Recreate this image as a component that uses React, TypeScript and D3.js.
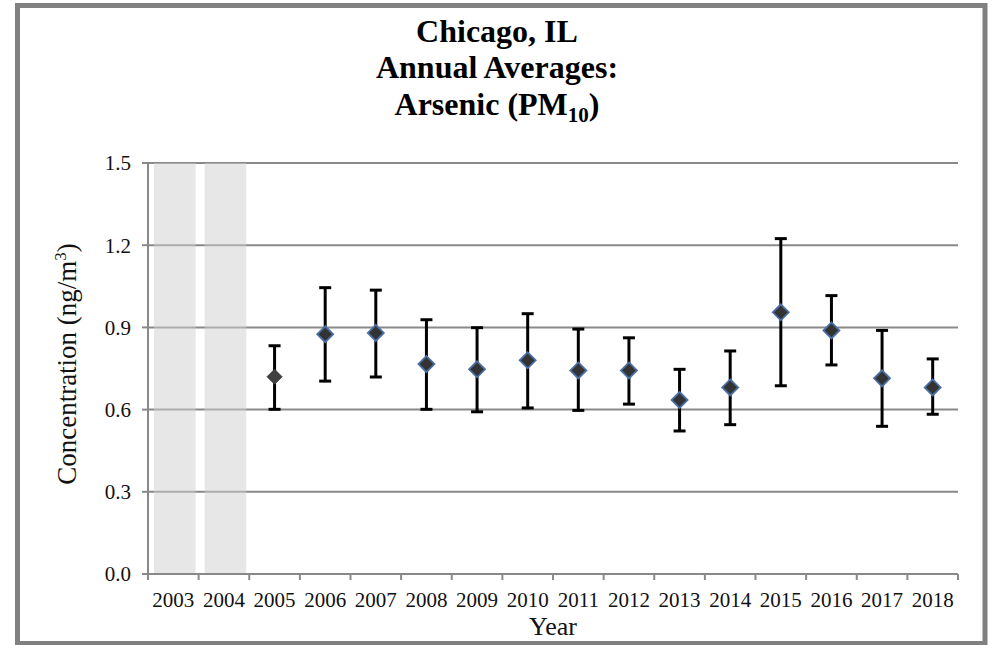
import React from "react";
import * as d3 from "d3";

const years = ["2003","2004","2005","2006","2007","2008","2009","2010","2011","2012","2013","2014","2015","2016","2017","2018"];
const means: (number | null)[] = [null, null, 0.720, 0.875, 0.880, 0.766, 0.747, 0.780, 0.743, 0.743, 0.635, 0.681, 0.955, 0.889, 0.714, 0.681];
const upper: (number | null)[] = [null, null, 0.833, 1.045, 1.036, 0.928, 0.899, 0.950, 0.894, 0.862, 0.747, 0.814, 1.224, 1.016, 0.889, 0.785];
const lower: (number | null)[] = [null, null, 0.601, 0.704, 0.719, 0.601, 0.592, 0.606, 0.597, 0.620, 0.522, 0.545, 0.687, 0.763, 0.539, 0.583];
const noDataYears = ["2003", "2004"];
const yTicks = [0, 0.3, 0.6, 0.9, 1.2, 1.5];

const FONT = "'Liberation Serif', 'Times New Roman', serif";

export default function App() {
  const W = 994, H = 645;
  const x = d3.scaleBand<string>().domain(years).range([148, 958]);
  const y = d3.scaleLinear().domain([0, 1.5]).range([574, 163]);
  const bw = x.bandwidth();
  const fmt = d3.format(".1f");
  const gridColor = "#898989";
  const diamond = (cx: number, cy: number, r: number) =>
    `M${cx},${cy - r}L${cx + r},${cy}L${cx},${cy + r}L${cx - r},${cy}Z`;

  return (
    <svg width={W} height={H} style={{ position: "absolute", left: 0, top: 0, background: "#fff" }} fontFamily={FONT}>
      <rect x={17.5} y={5.5} width={967.5} height={638} fill="#fff" stroke="#808080" strokeWidth={5} />
      {/* title */}
      <text x={497} y={42} textAnchor="middle" fontSize={32} fontWeight="bold">Chicago, IL</text>
      <text x={497} y={78} textAnchor="middle" fontSize={32} fontWeight="bold">Annual Averages:</text>
      <text x={497} y={115} textAnchor="middle" fontSize={32} fontWeight="bold">
        Arsenic (PM<tspan fontSize={21} dy={7}>10</tspan><tspan dy={-7}>)</tspan>
      </text>
      {/* gridlines */}
      {yTicks.filter(t => t > 0).map(t => (
        <line key={t} x1={148} x2={958} y1={y(t)} y2={y(t)} stroke={gridColor} strokeWidth={2} />
      ))}
      {/* no-data bands */}
      {noDataYears.map(yr => (
        <rect key={yr} x={(x(yr) as number) + 6} y={y(1.5)} width={bw - 9} height={y(0) - y(1.5)}
          fill="rgb(208,208,208)" fillOpacity={0.5} />
      ))}
      {/* axes */}
      <line x1={148} x2={148} y1={y(1.5) - 1} y2={y(0) + 1} stroke={gridColor} strokeWidth={2} />
      <line x1={147} x2={958} y1={y(0)} y2={y(0)} stroke={gridColor} strokeWidth={2} />
      {yTicks.map(t => (
        <g key={t}>
          <line x1={142} x2={148} y1={y(t)} y2={y(t)} stroke={gridColor} strokeWidth={2} />
          <text x={131} y={y(t)} dy="0.35em" textAnchor="end" fontSize={21} fill="#111">{fmt(t)}</text>
        </g>
      ))}
      {years.map(yr => (
        <line key={"t" + yr} x1={(x(yr) as number) + bw} x2={(x(yr) as number) + bw} y1={y(0)} y2={y(0) + 6} stroke={gridColor} strokeWidth={2} />
      ))}
      <line x1={148} x2={148} y1={y(0)} y2={y(0) + 6} stroke={gridColor} strokeWidth={2} />
      {years.map(yr => (
        <text key={"l" + yr} x={(x(yr) as number) + bw / 2} y={607} textAnchor="middle" fontSize={21} fill="#111">{yr}</text>
      ))}
      <text x={553} y={635} textAnchor="middle" fontSize={26} fill="#111">Year</text>
      <text transform={`translate(76,364) rotate(-90)`} textAnchor="middle" fontSize={27} fill="#111">
        Concentration (ng/m<tspan fontSize={17} dy={-10}>3</tspan><tspan dy={10}>)</tspan>
      </text>
      {/* error bars */}
      {years.map((yr, i) => {
        if (means[i] == null) return null;
        const cx = (x(yr) as number) + bw / 2;
        const yu = y(upper[i] as number), yl = y(lower[i] as number);
        return (
          <g key={"e" + yr} stroke="#000" strokeWidth={3}>
            <line x1={cx} x2={cx} y1={yu} y2={yl} />
            <line x1={cx - 6} x2={cx + 6} y1={yu} y2={yu} />
            <line x1={cx - 6} x2={cx + 6} y1={yl} y2={yl} />
          </g>
        );
      })}
      {/* markers */}
      {years.map((yr, i) => {
        if (means[i] == null) return null;
        const cx = (x(yr) as number) + bw / 2;
        const cy = y(means[i] as number);
        const first = i === 2;
        return (
          <path key={"m" + yr} d={diamond(cx, cy, first ? 7.5 : 8)}
            fill={first ? "#404040" : "#333"} stroke={first ? "#404040" : "#4a6fa5"} strokeWidth={first ? 1 : 1.8} />
        );
      })}
    </svg>
  );
}
